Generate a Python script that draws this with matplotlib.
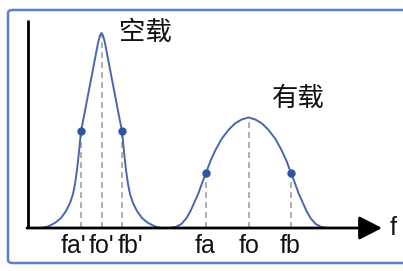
import matplotlib
matplotlib.use("Agg")
import matplotlib.pyplot as plt
from matplotlib.patches import FancyBboxPatch

# ---- data (arbitrary frequency / amplitude units) ----
noload_f = [1.35, 2.00, 2.70, 3.30, 3.80, 4.20, 4.50, 4.70, 4.90, 5.10, 5.30,
            5.60, 6.10, 6.60, 7.00, 7.20, 7.35,
            7.50, 7.70, 8.10, 8.60, 9.10, 9.40, 9.60, 9.80, 10.00, 10.20,
            10.50, 10.90, 11.40, 12.00, 12.70, 13.35]
noload_a = [0.000, 0.008, 0.026, 0.051, 0.087, 0.128, 0.174, 0.226, 0.297, 0.390, 0.497,
            0.574, 0.708, 0.841, 0.949, 0.987, 1.000,
            0.987, 0.949, 0.841, 0.708, 0.574, 0.497, 0.390, 0.297, 0.226, 0.174,
            0.128, 0.087, 0.051, 0.026, 0.008, 0.000]

load_f = [14.15, 14.75, 15.35, 15.85, 16.25, 16.65, 17.05, 17.45, 17.80, 18.25,
          18.75, 19.35, 20.05, 20.70, 21.35, 22.05,
          22.75, 23.40, 24.05, 24.75, 25.35, 25.85, 26.30, 26.65, 27.05,
          27.45, 27.85, 28.25, 28.75, 29.35, 29.95]
load_a = [0.000, 0.005, 0.021, 0.051, 0.087, 0.133, 0.179, 0.236, 0.282, 0.344,
          0.400, 0.456, 0.503, 0.536, 0.556, 0.567,
          0.556, 0.536, 0.503, 0.456, 0.400, 0.344, 0.282, 0.236, 0.179,
          0.133, 0.087, 0.051, 0.021, 0.005, 0.000]

# half-power points and centre frequencies
marker_f = [5.30, 7.35, 9.40, 17.80, 22.05, 26.30]
marker_a = [0.497, 1.000, 0.497, 0.282, 0.567, 0.282]
marker_dot = [True, False, True, True, False, True]
tick_labels = ["fa'", "fo'", "fb'", "fa", "fo", "fb"]
tick_label_f = [4.55, 7.35, 10.25, 17.70, 22.15, 26.20]

curve_names = ["空载", "有载"]
curve_name_pos = [(11.7, 1.005), (27.0, 0.667)]
axis_label = "f"

# ---- figure ----
W, H, DPI = 403, 271, 100
fig = plt.figure(figsize=(W / DPI, H / DPI), dpi=DPI)
ax = fig.add_axes([0, 0, 1, 1])
ax.set_xlim(-2.8, 37.5)
ax.set_ylim(-43 / 195, 228 / 195)
ax.axis("off")

# border
border = FancyBboxPatch((8 / W, 1 - 263 / H), 1.05 - 8 / W, (263 - 10) / H,
                        boxstyle="round,pad=0,rounding_size=0.012",
                        transform=fig.transFigure, facecolor="none",
                        edgecolor="#5f80c8", linewidth=1.8, clip_on=False)
fig.patches.append(border)

curve_col = "#4a66ad"
dot_col = "#2e56a0"
dash_col = "#a0a0a0"

# dashed guides
for fx, ay in zip(marker_f, marker_a):
    ax.plot([fx, fx], [0, ay], color=dash_col, lw=1.2, dashes=(3.5, 2.5), zorder=1)

# curves
ax.plot(noload_f, noload_a, color=curve_col, lw=1.4, zorder=3, solid_joinstyle="round")
ax.plot(load_f, load_a, color=curve_col, lw=1.4, zorder=3, solid_joinstyle="round")

# dots
for fx, ay, d in zip(marker_f, marker_a, marker_dot):
    if d:
        ax.plot(fx, ay, "o", color=dot_col, ms=5, zorder=4)

# axes
ax.plot([0, 0], [0, 208 / 195], color="black", lw=2.0, solid_capstyle="butt", zorder=5)
ax.annotate("", xy=(35.4, 0), xytext=(-0.1, 0),
            arrowprops=dict(arrowstyle="-|>,head_length=1.4,head_width=0.72",
                            mutation_scale=10, lw=2.0, color="black",
                            shrinkA=0, shrinkB=0), zorder=5)
ax.text(36.5, 0, axis_label, fontsize=18, family=["Liberation Sans", "DejaVu Sans"],
        ha="center", va="center", color="#111111")

# tick labels
for fx, lab in zip(tick_label_f, tick_labels):
    ax.text(fx, -25 / 195, lab, fontsize=18, family=["Liberation Sans", "DejaVu Sans"],
            ha="center", va="baseline", color="#111111")

for name, (fx, ay) in zip(curve_names, curve_name_pos):
    ax.text(fx, ay, name, fontsize=19, family=["Noto Sans CJK SC", "DejaVu Sans"],
            ha="center", va="center", color="#111111")

fig.savefig("out.png", dpi=DPI)
